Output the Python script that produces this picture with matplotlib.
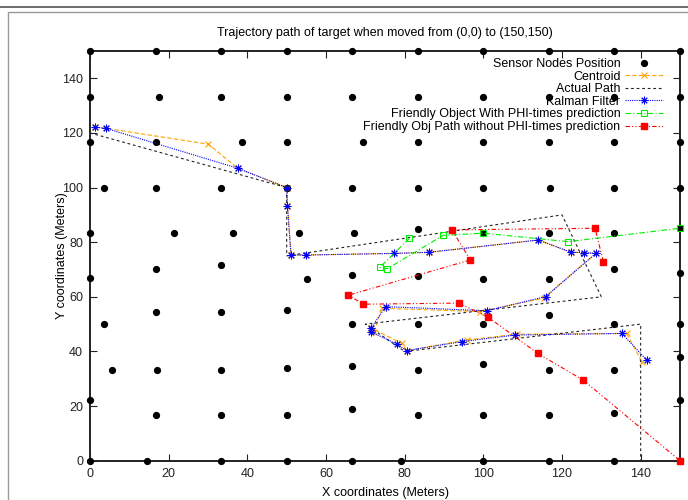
import numpy as np
import matplotlib
matplotlib.use("Agg")
import matplotlib.pyplot as plt
from matplotlib.patches import Rectangle

plt.rcParams['font.family'] = ['Liberation Sans', 'DejaVu Sans']

# sensor nodes, row by row (top to bottom)
sensor_x = [0, 16.67, 33.33, 50, 66.67, 83.33, 100, 116.67, 133.33, 150,
            0, 17.6, 33.33, 50, 66.67, 83.33, 100, 116.67, 133.33, 150,
            0, 16.67, 38.6, 50, 69.5, 83.33, 100, 116.67, 133.33, 150,
            3.5, 16.67, 33.33, 50, 66.67, 83.33, 100, 117, 133.33, 150,
            0, 21.3, 36.4, 53.2, 67.2, 83.33, 100, 116.67, 133.33, 150,
            0, 16.67, 33.33, 55.1, 66.67, 83.33, 100, 116.67, 133.33, 150,
            3.5, 16.67, 33.33, 50, 66.67, 83.33, 100, 116.67, 133.33, 150,
            5.6, 17, 33.33, 50, 66.67, 83.33, 100, 116.67, 133.33, 150,
            0, 16.67, 33.33, 50, 66.67, 83.33, 100, 116.67, 133.33, 150,
            0, 14.4, 33.33, 50, 66.67, 79.1, 100, 116.67, 133.33, 150]
sensor_y = [150] * 10 + [133.33] * 10 + [116.67] * 10 + [100] * 10 + \
    [83.5, 83.5, 83.5, 83.5, 83.5, 84.9, 83.5, 83.5, 83.5, 85.2] + \
    [66.8, 70.3, 71.5, 66.6, 67.9, 67.6, 66.6, 66.6, 70.3, 68.6] + \
    [50.1, 54.6, 54.6, 55.1, 50.1, 50.1, 50.1, 53.5, 50.1, 50.1] + \
    [33.3, 33.3, 33.3, 33.9, 34.8, 33.3, 35.3, 33.3, 33.3, 38.1] + \
    [22.3, 16.7, 16.7, 16.7, 19.0, 16.7, 16.7, 16.7, 17.4, 22.3] + \
    [0] * 10

centroid_x = [1.2, 4.0, 30.1, 37.5, 50.0, 50.2, 51.1, 54.9, 77.4, 86.2, 114.0,
              122.3, 125.6, 128.6, 115.3, 99.2, 74.2, 72.2, 71.5, 79.2, 80.5,
              95.8, 108.5, 136.4, 140.3]
centroid_y = [122.1, 121.7, 115.9, 107.1, 100.0, 93.4, 75.3, 75.3, 75.9, 76.3,
              80.8, 76.3, 76.2, 75.9, 59.5, 54.6, 55.8, 47.2, 48.5, 43.0, 40.3,
              44.2, 46.3, 46.6, 36.3]

actual_x = [0, 50, 50, 120, 130, 70, 80, 140, 140]
actual_y = [120, 100, 75, 90, 60, 50, 40, 50, 0]

kalman_x = [1.2, 4.0, 37.5, 50.0, 50.2, 51.1, 54.9, 77.4, 86.2, 114.0, 122.3,
            125.6, 128.6, 115.9, 100.9, 75.2, 71.4, 71.4, 78.0, 80.5, 94.5,
            108.1, 135.2, 141.5]
kalman_y = [122.1, 121.7, 107.1, 100.0, 93.4, 75.3, 75.3, 75.9, 76.3, 80.8,
            76.3, 76.2, 75.9, 60.1, 54.9, 56.4, 48.5, 47.2, 42.7, 40.3, 43.6,
            46.0, 46.6, 36.9]

phi_x = [81.2, 73.7, 75.6, 89.8, 100.0, 121.5, 150.0]
phi_y = [81.4, 70.8, 70.3, 82.5, 83.3, 80.2, 85.1]

nophi_x = [130.5, 128.4, 92.0, 96.7, 65.7, 69.5, 93.7, 101.1, 113.8, 125.4, 150.0]
nophi_y = [72.9, 85.1, 84.5, 73.5, 60.6, 57.3, 57.7, 52.7, 39.3, 29.5, 0.0]

fig = plt.figure(figsize=(6.88, 5.0), dpi=100)
# screenshot window frame
fig.add_artist(Rectangle((8 / 688, -0.1), 1.0, (500 - 12) / 500 + 0.1,
                         transform=fig.transFigure, fill=False,
                         edgecolor='#9a9a9a', linewidth=1.0))
fig.add_artist(plt.Line2D([0, 1], [1 - 7 / 500, 1 - 7 / 500],
                          transform=fig.transFigure, color='#555555', linewidth=1.2))

ax = fig.add_axes([90 / 688, 1 - 460.7 / 500, 590 / 688, 409.7 / 500])

ax.plot(sensor_x, sensor_y, 'o', color='black', ms=4.2, clip_on=False,
        label='Sensor Nodes Position', zorder=3)
ax.plot(centroid_x, centroid_y, color='#ffa500', ls=(0, (4, 2)), lw=0.8,
        marker='x', ms=5, mew=0.8, clip_on=False, label='Centroid', zorder=4)
ax.plot(actual_x, actual_y, color='#222222', ls=(0, (2.5, 2.5)), lw=0.8,
        clip_on=False, label='Actual Path', zorder=4)
ax.plot(kalman_x, kalman_y, color='#0000ff', ls=(0, (1, 1)), lw=0.8,
        marker=(8, 2, 0), ms=5.5, mew=0.7, clip_on=False,
        label='Kalman Filter', zorder=5)
ax.plot(phi_x, phi_y, color='#00ee00', ls=(0, (5, 2, 1, 2)), lw=0.8,
        marker='s', ms=5, mfc='none', mew=0.8, clip_on=False,
        label='Friendly Object With PHI-times prediction', zorder=5)
ax.plot(nophi_x, nophi_y, color='#ff0000', ls=(0, (4, 2, 1, 2, 1, 2)), lw=0.8,
        marker='s', ms=5, clip_on=False,
        label='Friendly Obj Path without PHI-times prediction', zorder=6)

ax.set_xlim(0, 150)
ax.set_ylim(0, 150)
ax.set_xticks(np.arange(0, 141, 20))
ax.set_yticks(np.arange(0, 141, 20))
ax.tick_params(direction='in', length=5, width=0.8, top=True, right=True,
               labelsize=9, pad=5, colors='#222222')
for s in ax.spines.values():
    s.set_linewidth(1.4)
    s.set_color('#222222')

ax.set_title('Trajectory path of target when moved from (0,0) to (150,150)',
             fontsize=9, pad=11)
ax.set_xlabel('X coordinates (Meters)', fontsize=9, labelpad=5)
ax.set_ylabel('Y coordinates (Meters)', fontsize=9, labelpad=-4)

ax.legend(loc='upper right', bbox_to_anchor=(0.971, 0.983), frameon=False,
          markerfirst=False, fontsize=9, labelspacing=0.05, handlelength=3,
          handletextpad=0.4, borderpad=0, borderaxespad=0)

fig.savefig('out.png', dpi=100)
